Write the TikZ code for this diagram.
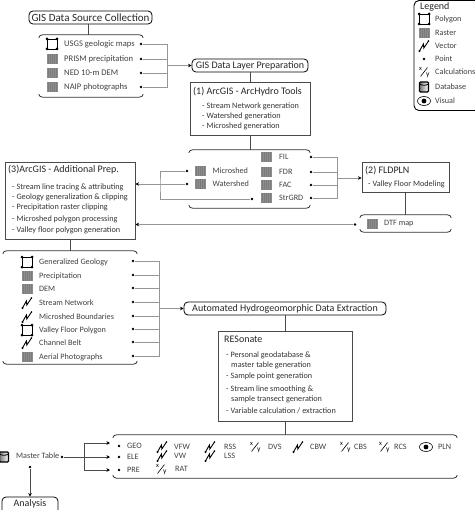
\documentclass[tikz,border=0pt]{standalone}
\usepackage{fontspec}
\setmainfont{Carlito}
\usetikzlibrary{arrows.meta}
\definecolor{linegray}{HTML}{969696}
\definecolor{boxgray}{HTML}{4A4A4A}
\definecolor{rastergray}{HTML}{7C7C7C}
\newcommand{\headfont}{\fontsize{10}{12}\selectfont}
\newcommand{\listfont}{\fontsize{8.2}{10}\selectfont}
\newcommand{\itemfont}{\fontsize{8.2}{10}\selectfont}
% one outline with curled ends above and below a named node
\newcommand{\brackets}[1]{
  \draw[groupline] ([yshift=-3]#1.north west) to[out=90,in=180] ([xshift=4]#1.north west) -- ([xshift=-4]#1.north east) to[out=0,in=90] ([yshift=-3]#1.north east);
  \draw[groupline] ([yshift=3]#1.south west) to[out=-90,in=180] ([xshift=4]#1.south west) -- ([xshift=-4]#1.south east) to[out=0,in=-90] ([yshift=3]#1.south east);
}
\tikzset{
  titlebox/.style={draw=black,line width=0.8,rounded corners=4,inner sep=0,font=\headfont,text=black!85},
  procbox/.style={draw=boxgray,line width=1,inner sep=0},
  group/.style={inner sep=0},
  groupline/.style={draw=black!80,line width=0.8},
  headtext/.style={anchor=west,inner sep=0,font=\headfont,text=black!85},
  bodytext/.style={anchor=west,inner sep=0,font=\listfont,text=black!80},
  itemtext/.style={anchor=west,inner sep=0,font=\itemfont,text=black!75},
  dot/.style={circle,fill=black,inner sep=0,minimum size=2.8},
  link/.style={draw=linegray,line width=0.9},
  into/.style={link,-{Stealth[length=3.5,width=3.5,black]}},
  darkinto/.style={draw=boxgray,line width=0.8,-{Stealth[length=3.5,width=3.5,black]}},
  stem/.style={draw=boxgray,line width=1},
  icpoly/.pic={
    \draw[black,line width=0.8] (-5,-5) rectangle (5,5);
    \foreach \cx/\cy in {-5/-5,5/-5,5/5,-5/5} \fill[black] (\cx,\cy) circle (1.5);
  },
  icraster/.pic={
    \fill[rastergray] (-5,-5) rectangle (5,5);
    \draw[rastergray!88!white,line width=0.2,shift={(-5,-5)}] (0,0) grid[step=2] (10,10);
  },
  icvector/.pic={
    \draw[black,line width=0.9] (-4.5,5) -- (-0.6,-2) -- (-0.2,2) -- (4.5,-5);
    \fill[black] (-4.5,5) circle (1.2);
    \fill[black] (4.5,-5) circle (0.9);
  },
  iccalc/.pic={
    \draw[black,line width=0.6] (-3.5,4.5) -- (3.5,-4.5);
    \node[inner sep=0,font=\fontsize{6.5}{7}\selectfont] (calcx) at (-3.5,-2.8) {x};
    \node[inner sep=0,font=\fontsize{7.5}{8}\selectfont] (calcy) at (3.8,3) {y};
  },
  icdb/.pic={
    \draw[black,line width=1.2,rounded corners=1,left color=rastergray,right color=white] (-4.5,-5) rectangle (4.5,5);
    \draw[black,line width=0.8] (-4.5,-3) to[out=-30,in=-150] (4.5,-3);
  },
  iceye/.pic={
    \draw[black,line width=0.6] (0,0) ellipse (6.5 and 4.5);
    \fill[black] (0,0) circle (2.4);
  }
}

\begin{document}
\begin{tikzpicture}[x=1pt,y=-1pt]
  \useasboundingbox (0,0) rectangle (474,510);

  % legend
  \node[draw=black,line width=0.9,rounded corners=5,inner sep=0,minimum width=70,minimum height=110] (legendbox) at (449,55.5) {};
  \node[headtext] (legendhead) at (420,7) {Legend};
  \pic at (424,19) {icpoly};
  \pic at (424,33) {icraster};
  \pic at (424,46) {icvector};
  \fill[black] (424,59) circle (1.3);
  \pic at (424,72) {iccalc};
  \pic at (424,87) {icdb};
  \pic at (424,101) {iceye};
  \foreach \ypos/\lbl in {19/Polygon,33/Raster,46/Vector,59/Point,72/Calculations,87/Database,101/Visual}
    \node[itemtext] (legend\lbl) at (435,\ypos) {\lbl};

  % source data
  \node[titlebox,font=\fontsize{11}{13}\selectfont,minimum width=123,minimum height=13] (sources) at (90.5,17.5) {GIS Data Source Collection};
  \node[group,minimum width=104,minimum height=62] (srcgroup) at (91,66) {};
  \brackets{srcgroup}
  \coordinate (srcstem) at (88,30);
  \draw[stem] (srcstem |- sources.south) -- (srcstem |- srcgroup.north);
  \pic at (52,44) {icpoly};
  \pic at (52,59) {icraster};
  \pic at (52,73) {icraster};
  \pic at (52,87) {icraster};
  \foreach \ypos/\lbl/\tag in {44/USGS geologic maps/usgs,59/PRISM precipitation/prism,73/NED 10-m DEM/ned,87/NAIP photographs/naip}{
    \node[itemtext,font=\fontsize{8.6}{10}\selectfont] (\tag) at (64,\ypos) {\lbl};
    \node[dot] (\tag dot) at (141,\ypos) {};
  }
  \coordinate (srcbus) at (167,65.5);

  % layer preparation
  \node[titlebox,minimum width=116,minimum height=13] (layers) at (250,65.5) {GIS Data Layer Preparation};
  \node[procbox,minimum width=120,minimum height=53] (archydro) at (250,109.5) {};
  \node[headtext] (archydrohead) at (193,92) {(1) ArcGIS - ArcHydro Tools};
  \foreach \ypos/\lbl [count=\i] in {106/- Stream Network generation,116/- Watershed generation,126/- Microshed generation}
    \node[bodytext] (archydro\i) at (202,\ypos) {\lbl};
  \draw[link] (usgsdot) -| (srcbus);
  \draw[link] (naipdot) -| (srcbus);
  \draw[link] (prismdot) -- (prismdot -| srcbus);
  \draw[link] (neddot) -- (neddot -| srcbus);
  \draw[into] (srcbus) -- (layers.west);
  \draw[stem] (layers.south) -- (archydro.north);

  % hydro layers
  \node[group,minimum width=121,minimum height=58] (hydrogroup) at (249.5,179) {};
  \brackets{hydrogroup}
  \draw[stem] (archydro.south) -- (archydro.south |- hydrogroup.north);
  \foreach \ypos/\lbl/\tag in {171/Microshed/micro,184/Watershed/water}{
    \pic at (200,\ypos) {icraster};
    \node[itemtext] (\tag) at (212.5,\ypos) {\lbl};
    \node[dot] (\tag dot) at (187,\ypos) {};
  }
  \foreach \ypos/\lbl/\tag in {157/FIL/fil,172/FDR/fdr,185/FAC/fac,198/StrGRD/strgrd}{
    \pic at (266,\ypos) {icraster};
    \node[itemtext] (\tag) at (279,\ypos) {\lbl};
    \node[dot] (\tag dot) at (311,\ypos) {};
  }
  \node[dot] (strgrdleft) at (252,199) {};
  \coordinate (hydrobus) at (337,178);
  \coordinate (tracebus) at (160,185);

  % fldpln
  \node[procbox,minimum width=87,minimum height=30] (fldpln) at (405.5,178) {};
  \node[headtext] (fldplnhead) at (365,171) {(2) FLDPLN};
  \node[bodytext] (fldpln1) at (368,184) {- Valley Floor Modeling};
  \draw[link] (fildot) -| (hydrobus);
  \draw[link] (strgrddot) -| (hydrobus);
  \draw[link] (fdrdot) -- (fdrdot -| hydrobus);
  \draw[link] (facdot) -- (facdot -| hydrobus);
  \draw[into] (hydrobus) -- (fldpln.west);
  \node[group,minimum width=91,minimum height=17] (dtfgroup) at (405.5,223.5) {};
  \brackets{dtfgroup}
  \draw[stem] (fldpln.south) -- (dtfgroup.north);
  \pic at (372,224) {icraster};
  \node[itemtext] (dtf) at (384,224) {DTF map};
  \node[dot] (dtfdot) at (355,224.5) {};

  % additional prep
  \node[procbox,minimum width=130,minimum height=76] (extras) at (70,201) {};
  \node[headtext] (extrashead) at (8,170) {(3)ArcGIS - Additional Prep.};
  \foreach \ypos/\lbl [count=\i] in {187/- Stream line tracing \& attributing,197/- Geology generalization \& clipping,207/- Precipitation raster clipping,219/- Microshed polygon processing,230/- Valley floor polygon generation}
    \node[bodytext] (extras\i) at (12,\ypos) {\lbl};
  \draw[link] (microdot) -| (tracebus) |- (strgrdleft);
  \draw[into] (waterdot) -- (waterdot -| extras.east);
  \draw[into] (dtfdot) -- (dtfdot -| extras.east);

  % derived inputs
  \node[group,minimum width=134,minimum height=113] (inputs) at (70,307.5) {};
  \brackets{inputs}
  \draw[stem] (extras.south) -- (inputs.north);
  \foreach \ic/\ypos/\lbl/\tag in {icpoly/262/Generalized Geology/geology,icraster/276/Precipitation/precip,icraster/289/DEM/dem,icvector/303/Stream Network/stream,icvector/317/Microshed Boundaries/bounds,icpoly/330/Valley Floor Polygon/valley,icvector/343/Channel Belt/belt,icraster/357/Aerial Photographs/aerial}{
    \pic at (27,\ypos) {\ic};
    \node[itemtext] (\tag) at (39,\ypos) {\lbl};
    \node[dot] (\tag dot) at (133,\ypos-1) {};
  }
  \coordinate (inputbus) at (159,308.5);

  % extraction
  \node[titlebox,minimum width=202,minimum height=13] (extract) at (285,308.5) {Automated Hydrogeomorphic Data Extraction};
  \foreach \tag in {precip,dem,stream,bounds,valley,belt}
    \draw[link] (\tag dot) -- (\tag dot -| inputbus);
  \draw[link] (geologydot) -| (inputbus);
  \draw[link] (aerialdot) -| (inputbus);
  \draw[into] (inputbus) -- (extract.west);
  \node[procbox,minimum width=134,minimum height=90] (resonate) at (285,376) {};
  \draw[stem] (extract.south) -- (resonate.north);
  \node[headtext] (resonatehead) at (224,339) {RESonate};
  \foreach \xpos/\ypos/\lbl [count=\i] in {226/355/- Personal geodatabase \&,231/365/master table generation,226/376/- Sample point generation,226/389/- Stream line smoothing \&,231/399/sample transect generation,226/411/{- Variable calculation / extraction}}
    \node[bodytext] (resonate\i) at (\xpos,\ypos) {\lbl};

  % variables
  \node[group,minimum width=344,minimum height=43] (variables) at (285,456.5) {};
  \brackets{variables}
  \draw[stem] (resonate.south) -- (variables.north);
  \foreach \ypos/\lbl in {446/GEO,457/ELE,470/PRE}{
    \node[dot] (\lbl dot) at (119,\ypos) {};
    \node[itemtext] (\lbl) at (127,\ypos) {\lbl};
  }
  \foreach \ic/\xpos/\ypos/\xtext/\lbl in {icvector/162/447/174/VFW,icvector/162/456/174/VW,iccalc/161/469/175/RAT,icvector/210/447/224/RSS,icvector/210/456/224/LSS,iccalc/255/447/268/DVS,icvector/298/447/310/CBW,iccalc/345/447/354/CBS,iccalc/384/447/394/RCS,iceye/426/447/438/PLN}{
    \pic at (\xpos,\ypos) {\ic};
    \node[itemtext] (\lbl) at (\xtext,\ypos) {\lbl};
  }

  % master table
  \pic at (4,457) {icdb};
  \node[itemtext] (master) at (16,456) {Master Table};
  \node[dot] (masterdot) at (62,457) {};
  \node[dot] (masterdown) at (30,467) {};
  \coordinate (masterbus) at (84,457);
  \coordinate (geoend) at (110,443);
  \coordinate (eleend) at (110,457);
  \coordinate (preend) at (110,470);
  \draw[darkinto] (masterdot) -- (eleend);
  \draw[darkinto] (masterbus) |- (geoend);
  \draw[darkinto] (masterbus) |- (preend);
  \node[draw=black,line width=0.8,rounded corners=4,inner sep=0,minimum width=56,minimum height=18] (analysis) at (30,506) {};
  \node[inner sep=0,font=\headfont,text=black!85] (analysislabel) at (30,504) {Analysis};
  \draw[darkinto] (masterdown) -- (analysis.north);
\end{tikzpicture}
\end{document}
